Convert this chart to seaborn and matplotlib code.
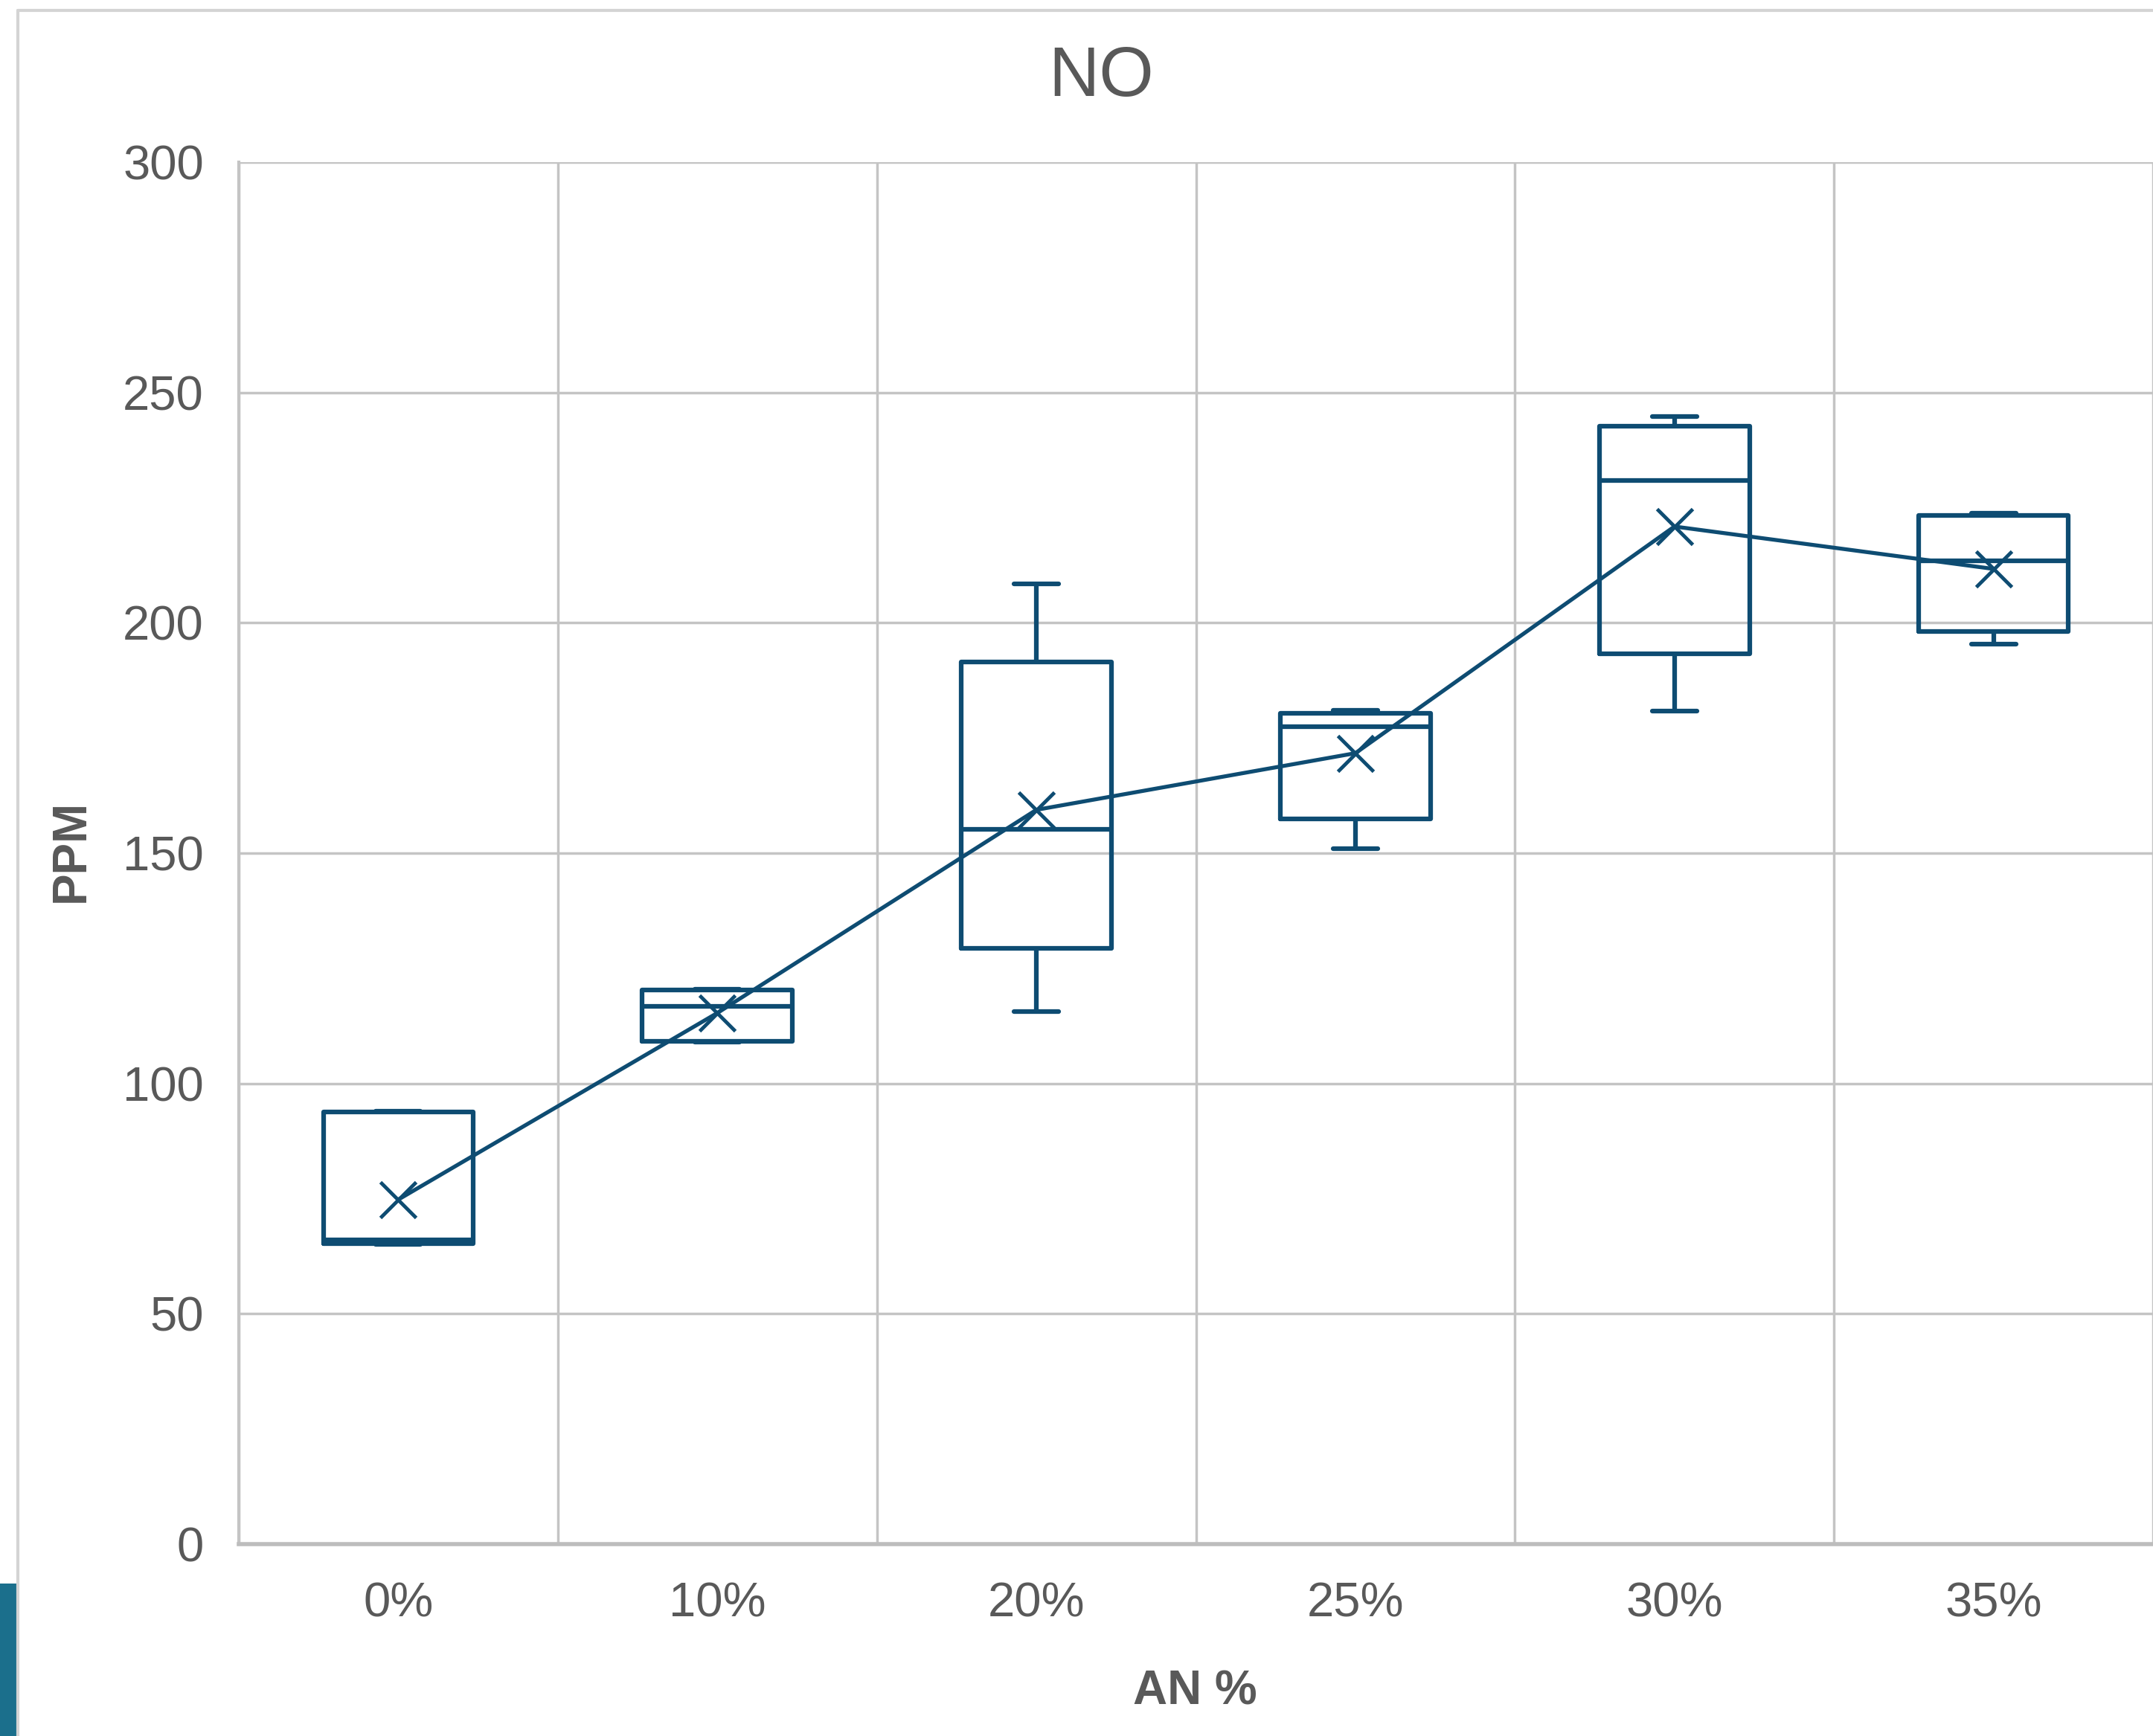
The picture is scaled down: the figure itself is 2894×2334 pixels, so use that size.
# %% IMPORTS
import numpy as np
import pandas as pd
import matplotlib.pyplot as plt
import seaborn as sns
from matplotlib.patches import Rectangle
from matplotlib.lines import Line2D

# %% DATA (read off the Excel box & whisker chart)
categories = ["0%", "10%", "20%", "25%", "30%", "35%"]
whisker_lo = [65.0, 109.0, 115.6, 150.9, 180.8, 195.3]
q1 = [65.2, 109.2, 129.3, 157.4, 193.3, 198.1]
median = [66.0, 116.8, 155.1, 177.4, 230.9, 213.5]
q3 = [93.8, 120.3, 191.5, 180.4, 242.7, 223.3]
whisker_hi = [94.0, 120.5, 208.5, 181.0, 244.7, 223.8]
means = [74.8, 115.3, 159.4, 171.7, 220.9, 211.7]

# five-number summary per category -> long table for seaborn
rows = []
for i, cat in enumerate(categories):
    for v in (whisker_lo[i], q1[i], median[i], q3[i], whisker_hi[i]):
        rows.append({"AN": cat, "PPM": v})
df = pd.DataFrame(rows)

BLUE = "#0E4C72"
GRID = "#C4C4C4"
TEXT = "#595959"

# %% STYLE
sns.set_theme(style="white")
plt.rcParams["font.family"] = ["Liberation Sans", "DejaVu Sans"]

fig = plt.figure(figsize=(28.94, 23.34), dpi=100)
ax = fig.add_axes([321 / 2894, (2334 - 2076) / 2334, 1 - 321 / 2894, (2076 - 218) / 2334])

# %% BOXES
sns.boxplot(data=df, x="AN", y="PPM", order=categories, ax=ax,
            fill=False, color=BLUE, linecolor=BLUE, linewidth=4.5,
            width=0.47, whis=(0, 100), showfliers=False, capwidths=0.14)

# mean line with x markers
sns.pointplot(x=categories, y=means, order=categories, ax=ax, color=BLUE,
              markers="x", errorbar=None, linewidth=3.8,
              markersize=34, markeredgewidth=3.5)

# %% AXES
ax.set_xlim(-0.5, 5.5)
ax.set_ylim(0, 300)
ax.set_yticks(np.arange(0, 301, 50))
ax.set_xticks(np.arange(-0.5, 6, 1), minor=True)
ax.yaxis.grid(True, color=GRID, linewidth=2.5)
ax.xaxis.grid(True, which="minor", color=GRID, linewidth=2.5)
ax.set_axisbelow(True)
ax.tick_params(axis="both", which="both", length=0, labelsize=47, labelcolor=TEXT)
ax.tick_params(axis="y", pad=34)
ax.tick_params(axis="x", pad=36)
ax.set_xlabel("")
ax.set_ylabel("")

for side in ["top", "right"]:
    ax.spines[side].set_visible(False)
ax.spines["left"].set_color(GRID)
ax.spines["left"].set_linewidth(3)
ax.spines["bottom"].set_color("#BDBDBD")
ax.spines["bottom"].set_linewidth(4)

# %% TEXTS
fig.text(1480 / 2894, 1 - 105 / 2334, "NO", ha="center", va="center",
         fontsize=68, color=TEXT)
fig.text(96 / 2894, 1 - 1144 / 2334, "PPM", rotation=90, ha="center", va="center",
         fontsize=46, fontweight="bold", color=TEXT)
fig.text(1606 / 2894, 1 - 2274 / 2334, "AN %", ha="center", va="center",
         fontsize=46, fontweight="bold", color=TEXT)

# screenshot frame: grey chart border and a strip of the sheet tab on the left
fig.add_artist(Line2D([24 / 2894, 24 / 2894], [0, 1 - 14 / 2334],
                      transform=fig.transFigure, color="#D4D4D4", lw=3))
fig.add_artist(Line2D([24 / 2894, 1], [1 - 14 / 2334, 1 - 14 / 2334],
                      transform=fig.transFigure, color="#D4D4D4", lw=3))
fig.add_artist(Rectangle((0, 0), 22 / 2894, (2334 - 2129) / 2334,
                         transform=fig.transFigure, color="#1B6F8C", lw=0))

fig.savefig("out.png", dpi=100)
